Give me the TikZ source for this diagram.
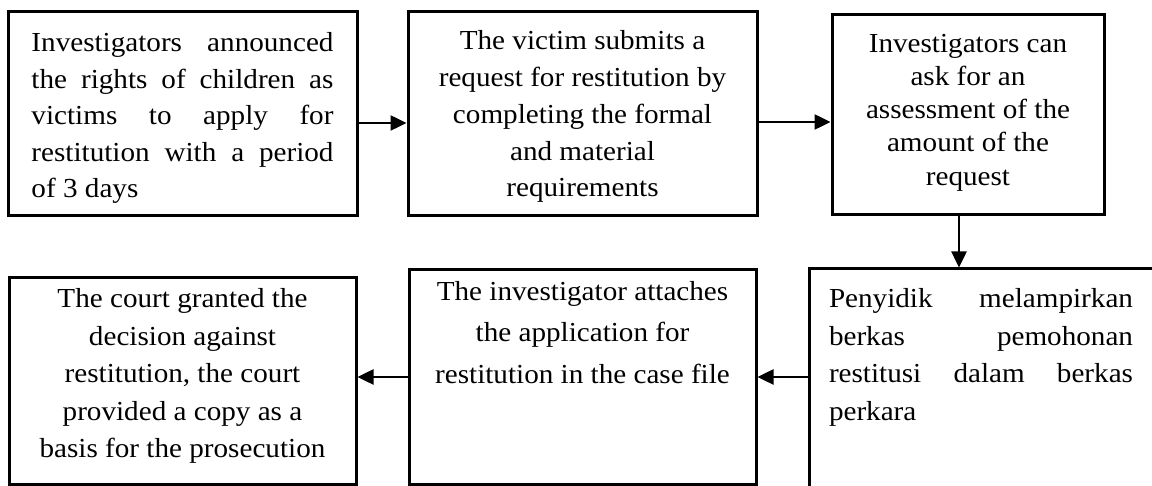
\documentclass[tikz,border=0pt]{standalone}
\usepackage{fontspec}
\setmainfont{Liberation Serif}[FakeStretch=1.06]
\usetikzlibrary{arrows.meta}
\tikzset{
  box/.style={draw, line width=3pt, inner sep=0pt, fill=white},
  arr/.style={line width=2.5pt, -{Triangle[length=16pt,width=15pt]}}
}
\begin{document}
\begin{tikzpicture}[x=1pt,y=-1pt]
\useasboundingbox (0,0) rectangle (1152,486);
\clip (0,0) rectangle (1152,486);
\fill[white] (0,0) rectangle (1152,486);

% top row
\node[box, minimum width=349pt, minimum height=204pt] (b1) at (182.5,114) {%
\begin{minipage}[c][204pt][t]{349pt}\centering\fontsize{27.5}{36.5}\selectfont
\vspace*{14.4pt}%
\makebox[302pt][s]{\strut Investigators announced}\\
\makebox[302pt][s]{the rights of children as}\\
\makebox[302pt][s]{victims to apply for}\\
\makebox[302pt][s]{restitution with a period}\\
\makebox[302pt][l]{of 3 days}
\end{minipage}};

\node[box, minimum width=349pt, minimum height=204pt] (b2) at (582.5,114) {%
\begin{minipage}[c][204pt][t]{349pt}\centering\fontsize{27.5}{36.7}\selectfont
\vspace*{12.3pt}%
\strut The victim submits a\\
request for restitution by\\
completing the formal\\
and material\\
requirements
\end{minipage}};

\node[box, minimum width=272pt, minimum height=200pt] (b3) at (968,115) {%
\begin{minipage}[c][200pt][t]{272pt}\centering\fontsize{27.5}{33.3}\selectfont
\vspace*{13.7pt}%
\strut Investigators can\\
ask for an\\
assessment of the\\
amount of the\\
request
\end{minipage}};

% bottom row
\node[box, minimum width=361pt, minimum height=251pt] (b4) at (989.5,394.5) {%
\begin{minipage}[c][251pt][t]{361pt}\fontsize{27.5}{37.5}\selectfont
\vspace*{12.7pt}%
\hspace*{20pt}\makebox[304pt][s]{\strut Penyidik melampirkan}\\
\hspace*{20pt}\makebox[304pt][s]{berkas pemohonan}\\
\hspace*{20pt}\makebox[304pt][s]{restitusi dalam berkas}\\
\hspace*{20pt}\makebox[304pt][l]{perkara}
\end{minipage}};

\node[box, minimum width=347pt, minimum height=214pt] (b5) at (582.5,377) {%
\begin{minipage}[c][214pt][t]{347pt}\centering\fontsize{27.5}{41.5}\selectfont
\vspace*{1pt}%
\strut The investigator attaches\\
the application for\\
restitution in the case file
\end{minipage}};

\node[box, minimum width=347pt, minimum height=206pt] (b6) at (182.5,381) {%
\begin{minipage}[c][206pt][t]{347pt}\centering\fontsize{27.5}{37.5}\selectfont
\vspace*{3.7pt}%
\strut The court granted the\\
decision against\\
restitution, the court\\
provided a copy as a\\
basis for the prosecution
\end{minipage}};

% connectors
\draw[arr] ([yshift=-9pt]b1.east) -- ([yshift=-9pt]b1.east -| b2.west);
\draw[arr] ([yshift=-8pt]b2.east) -- ([yshift=-8pt]b2.east -| b3.west);
\draw[arr] ([xshift=-9pt]b3.south) -- ([xshift=-9pt]b3.south |- b4.north);
\draw[arr] (b5.east -| b4.west) -- (b5.east);
\draw[arr] (b5.west) -- (b5.west -| b6.east);
\end{tikzpicture}
\end{document}
